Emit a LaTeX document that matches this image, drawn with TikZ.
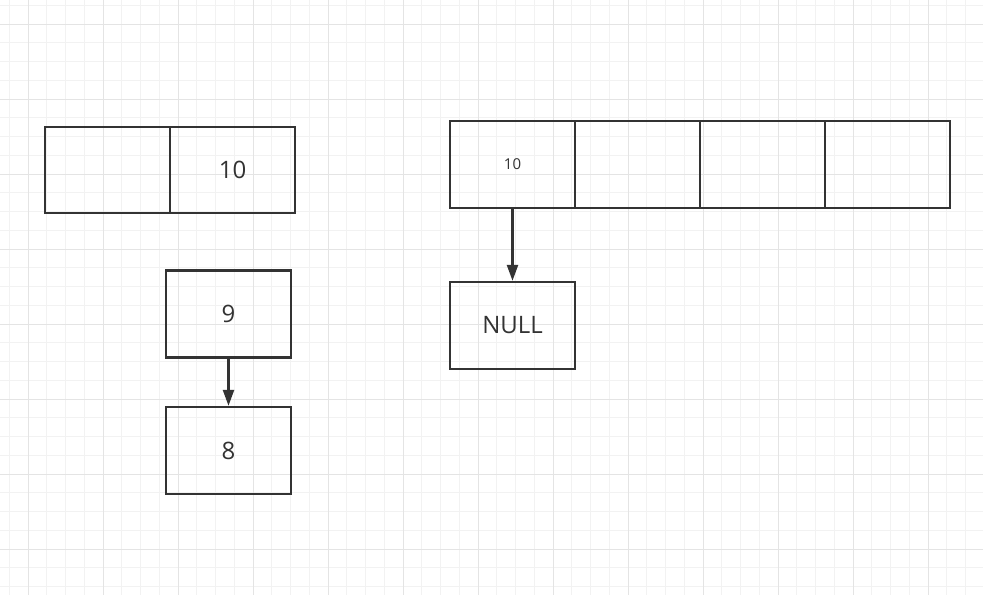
\documentclass[tikz,border=0pt]{standalone}
\usepackage{fontspec}
\setmainfont{Open Sans}
\usepackage{xcolor}
\usetikzlibrary{positioning, arrows.meta}
\definecolor{ink}{HTML}{333333}
\definecolor{gridminor}{HTML}{F2F2F2}
\definecolor{gridmajor}{HTML}{E4E4E4}
\tikzset{
  cell/.style={draw=ink, line width=2.4pt, minimum width=125pt, minimum height=86pt,
    inner sep=0pt, font=\fontsize{24}{28}\selectfont, text=ink},
  ptr/.style={draw=ink, line width=2.4pt, -{Triangle[length=16pt,width=11pt]}}
}

\begin{document}
\begin{tikzpicture}[x=1pt, y=-1pt]
    \useasboundingbox (0,0) rectangle (983,595);
    \fill[white] (0,0) rectangle (983,595);

    % Background grid
    \foreach \k in {0,...,51} {
      \draw[gridminor, line width=1pt] ({9.25+18.75*\k},0) -- ({9.25+18.75*\k},595);
    }
    \foreach \k in {0,...,31} {
      \draw[gridminor, line width=1pt] (0,{5.25+18.75*\k}) -- (983,{5.25+18.75*\k});
    }
    \foreach \k in {0,...,12} {
      \draw[gridmajor, line width=1pt] ({28+75*\k},0) -- ({28+75*\k},595);
    }
    \foreach \k in {0,...,7} {
      \draw[gridmajor, line width=1pt] (0,{24+75*\k}) -- (983,{24+75*\k});
    }

    % Left pair
    \node[cell] (pa) at (107.5,170) {};
    \node[cell] (pb) at (232.5,170) {10};

    % Chain 9 -> 8
    \node[cell, minimum height=87pt] (nine) at (228.5,314) {9};
    \node[cell, minimum height=87pt] (eight) at (228.5,450.5) {8};
    \draw[ptr] (nine.south) -- (eight.north);

    % Array of four slots
    \node[cell, minimum height=87pt, font=\fontsize{15}{18}\selectfont] (s0) at (512.5,164.5) {10};
    \node[cell, minimum height=87pt] (s1) at (637.5,164.5) {};
    \node[cell, minimum height=87pt] (s2) at (762.5,164.5) {};
    \node[cell, minimum height=87pt] (s3) at (887.5,164.5) {};

    % Slot 0 -> NULL
    \node[cell, minimum height=87pt] (null) at (512.5,325.5) {NULL};
    \draw[ptr] (s0.south) -- (null.north);
\end{tikzpicture}
\end{document}
